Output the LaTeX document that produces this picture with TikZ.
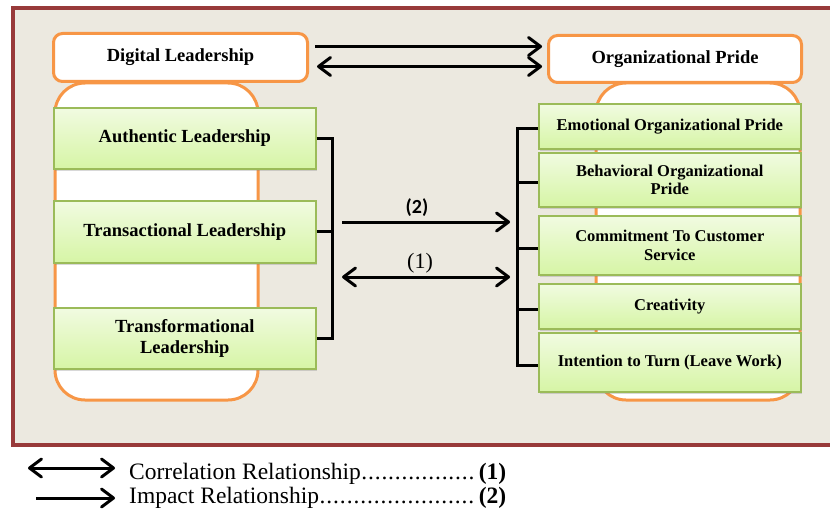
\documentclass[tikz,border=0pt]{standalone}
\usepackage{fontspec}
\setmainfont{Liberation Serif}
\newfontfamily\labelsans{Carlito}
\usetikzlibrary{arrows.meta,shadows}
\definecolor{framered}{RGB}{152,58,58}
\definecolor{paper}{RGB}{236,233,224}
\definecolor{orangeline}{RGB}{247,150,70}
\definecolor{greenline}{RGB}{155,187,89}
\definecolor{greentop}{RGB}{241,251,225}
\definecolor{greenbot}{RGB}{214,245,165}
\newcommand\legdots{\xleaders\hbox to 6.5pt{\hss.\hss}\hfill}
\begin{document}
\begin{tikzpicture}[x=1pt,y=-1pt,
  >={Straight Barb[length=12pt,width=18pt,round]},
  gbox/.style={draw=greenline, line width=1.6pt, top color=greentop,
    bottom color=greenbot, align=center, text=black, inner sep=2pt,
    anchor=north west, minimum width=262pt,
    drop shadow={opacity=0.3, shadow xshift=1.5pt, shadow yshift=-2.5pt}},
  lbox/.style={gbox, font=\bfseries\fontsize{18.5}{21}\selectfont},
  rbox/.style={gbox, font=\bfseries\fontsize{16.5}{18.5}\selectfont},
  headbox/.style={draw=orangeline, line width=3pt, fill=white,
    rounded corners=9pt, anchor=north west,
    font=\bfseries\fontsize{18.5}{21}\selectfont},
  pillar/.style={draw=orangeline, line width=3pt, fill=white, rounded corners=30pt},
  bracket/.style={line width=3pt, line join=miter},
  impact/.style={line width=3pt, ->},
  correl/.style={line width=3pt, <->}]

% page and outer frame
\fill[white] (0,0) rectangle (830,511);
\useasboundingbox (0,0) rectangle (830,511);
\draw[draw=framered, fill=paper, line width=4pt] (13,8) rectangle (850,445);

% orange columns behind the boxes
\draw[pillar] (55,83) rectangle (258,400);
\draw[pillar] (596,83) rectangle (800,400);

% headers
\node[headbox, minimum width=254pt, minimum height=48pt] (dl) at (52,32) {Digital Leadership};
\node[headbox, minimum width=253pt, minimum height=47pt] (op) at (547,34) {Organizational Pride};

% leadership styles
\node[lbox, minimum height=61pt] (auth) at (53,107) {Authentic Leadership};
\node[lbox, minimum height=62pt] (trs) at (53,200) {Transactional Leadership};
\node[lbox, minimum height=61pt] (trf) at (53,307) {Transformational\\Leadership};

% dimensions of organizational pride
\node[rbox, minimum height=45pt] (emo) at (538,103) {Emotional Organizational Pride};
\node[rbox, minimum height=54pt] (beh) at (538,152) {Behavioral Organizational\\Pride};
\node[rbox, minimum height=59pt] (com) at (538,215) {Commitment To Customer\\Service};
\node[rbox, minimum height=45pt] (cre) at (538,283) {Creativity};
\node[rbox, minimum height=59pt] (int) at (538,332) {Intention to Turn (Leave Work)};

% brackets
\coordinate (brL) at (332,0);
\coordinate (brR) at (517,0);
\draw[bracket] (auth.east) -- (auth.east -| brL) -- (trf.east -| brL) -- (trf.east);
\draw[bracket] (trs.east) -- (trs.east -| brL);
\draw[bracket] ([yshift=-2pt]emo.west) -- ([yshift=-2pt]emo.west -| brR)
  -- ([yshift=-3pt]int.west -| brR) -- ([yshift=-3pt]int.west);
\foreach \b in {beh,com,cre}
  \draw[bracket] ([yshift=-3pt]\b.west) -- ([yshift=-3pt]\b.west -| brR);

% relations between the headers
\draw[impact, shorten <=6pt, shorten >=5pt] ([yshift=11pt]dl.east) -- ([yshift=11pt]dl.east -| op.west);
\draw[correl, shorten <=8pt, shorten >=5pt] ([yshift=-9pt]dl.east) -- ([yshift=-9pt]dl.east -| op.west);

% relations between the groups
\coordinate (a2s) at (342,222);
\coordinate (a2e) at (510,222);
\coordinate (a1s) at (342,277);
\coordinate (a1e) at (510,277);
\draw[impact] (a2s) -- (a2e);
\draw[correl] (a1s) -- (a1e);
\node[font=\labelsans\bfseries\fontsize{20}{22}\selectfont] (l2) at (417,208) {(2)};
\node[font=\fontsize{22}{24}\selectfont] (l1) at (420,263) {(1)};

% legend
\coordinate (g1s) at (28,468);
\coordinate (g1e) at (115,468);
\coordinate (g2s) at (36,498);
\coordinate (g2e) at (115,498);
\draw[correl] (g1s) -- (g1e);
\draw[impact] (g2s) -- (g2e);
\node[anchor=base west, inner sep=0pt, font=\fontsize{23.5}{26}\selectfont] (t1) at (129,479)
  {\hbox to 377pt{Correlation Relationship\legdots\,\textbf{(1)}}};
\node[anchor=base west, inner sep=0pt, font=\fontsize{23.5}{26}\selectfont] (t2) at (129,503)
  {\hbox to 377pt{Impact Relationship\legdots\,\textbf{(2)}}};
\end{tikzpicture}
\end{document}
